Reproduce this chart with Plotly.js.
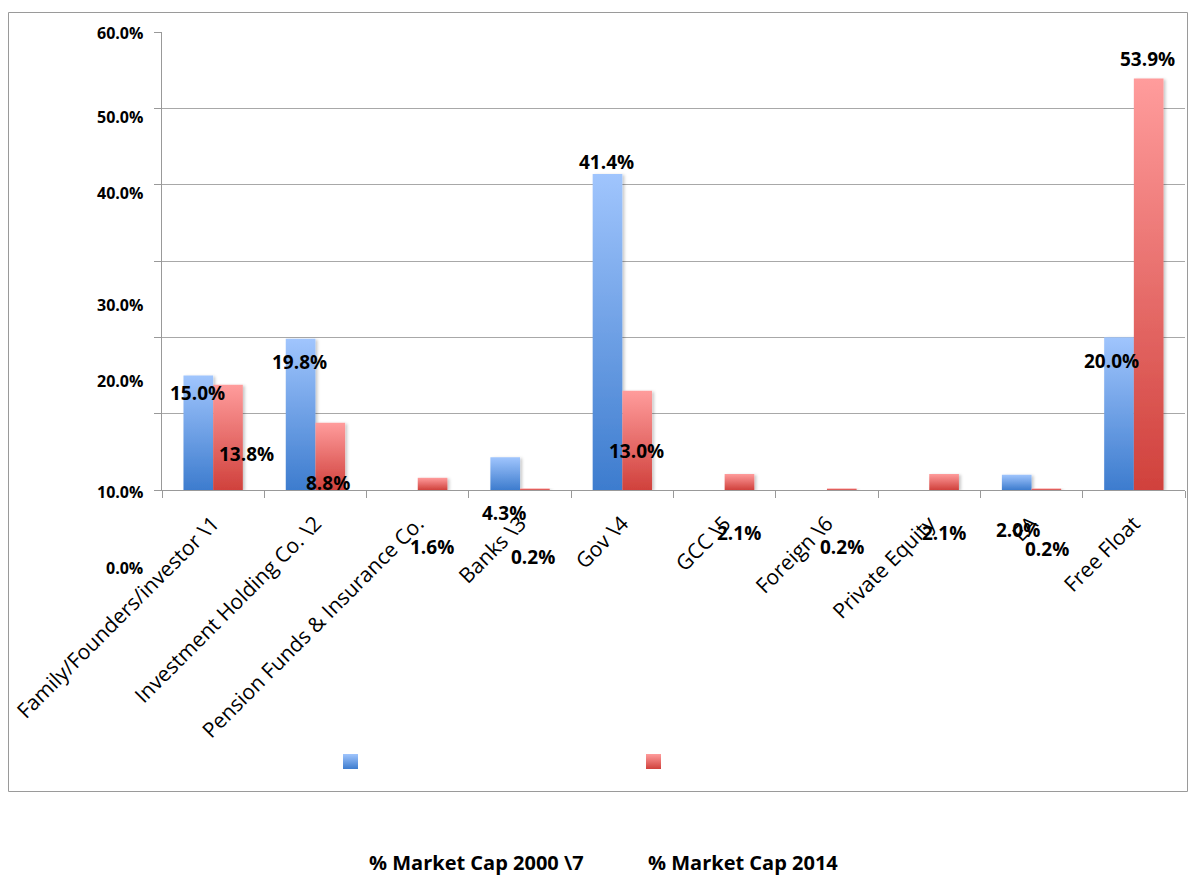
<!DOCTYPE html>
<html>
<head>
<meta charset="utf-8">
<script src="https://cdn.plot.ly/plotly-3.0.1.min.js"></script>
<style>
  html, body { margin: 0; padding: 0; background: #fff; }
  #chart { width: 1189px; height: 876px; }
</style>
</head>
<body>
<div id="chart"></div>
<script>
// ---- data ----
const categories = [
  'Family/Founders/investor \\1',
  'Investment Holding Co. \\2',
  'Pension Funds & Insurance Co.',
  'Banks \\3',
  'Gov \\4',
  'GCC \\5',
  'Foreign \\6',
  'Private Equity',
  'EA',
  'Free Float'
];
const share2000 = [15.0, 19.8, 0, 4.3, 41.4, 0, 0, 0, 2.0, 20.0];
const share2014 = [13.8, 8.8, 1.6, 0.2, 13.0, 2.1, 0.2, 2.1, 0.2, 53.9];
const seriesNames = ['% Market Cap 2000 \\7', '% Market Cap 2014'];
const yTickValues = [0, 10, 20, 30, 40, 50, 60];
const yTickLabels = ['0.0%', '10.0%', '20.0%', '30.0%', '40.0%', '50.0%', '60.0%'];

// ---- geometry (pixels) ----
const W = 1189, H = 876;
const PL = 162, PR = 1185, PT = 32, PB = 490;
const toPaperX = x => (x - PL) / (PR - PL);
const toPaperY = y => (PB - y) / (PB - PT);

// value label offsets from the top of each bar (px; yshift + = up)
const labelDx2000 = [-16, -16, 0, -16, -16, 0, 0, 0, -14, -22];
const labelDy2000 = [-17.5, -23, 0, -56, 12, 0, 0, 0, -55, -24];
const labelDx2014 = [33, 13, 14.5, 13.3, 14, 14, 14.7, 14.5, 15.3, 14];
const labelDy2014 = [-69, -60, -69, -68.5, -60, -59, -58.5, -59, -60.5, 19.6];
// vertical offsets of the value-axis labels from their gridlines
const yTickDy = [-78, -78.3, -43.7, -44, -8.3, -8.7, -1];

const FONT = 'Open Sans, Liberation Sans, sans-serif';
const BLUE = ['#a0c5fd', '#3d7cce'];
const RED = ['#ff9c9c', '#d0413c'];

const traces = [
  { type: 'bar', name: seriesNames[0], x: categories, y: share2000,
    marker: { color: BLUE[1], line: { width: 0 } }, hoverinfo: 'skip' },
  { type: 'bar', name: seriesNames[1], x: categories, y: share2014,
    marker: { color: RED[1], line: { width: 0 } }, hoverinfo: 'skip' }
];

const annotations = [];
function valueLabels(values, dx, dy) {
  values.forEach((v, i) => {
    if (!v) return;
    annotations.push({
      x: categories[i], xref: 'x', y: v, yref: 'y',
      xshift: dx[i], yshift: dy[i],
      text: v.toFixed(1) + '%', showarrow: false,
      xanchor: 'center', yanchor: 'middle',
      font: { family: FONT, size: 19, color: '#000', weight: 700 }
    });
  });
}
valueLabels(share2000, labelDx2000, labelDy2000);
valueLabels(share2014, labelDx2014, labelDy2014);

yTickValues.forEach((t, i) => {
  annotations.push({
    x: toPaperX(145), xref: 'paper', y: t, yref: 'y', yshift: yTickDy[i],
    text: yTickLabels[i], showarrow: false, xanchor: 'right', yanchor: 'middle',
    font: { family: FONT, size: 16, color: '#000', weight: 700 }
  });
});

// legend captions
[[476, seriesNames[0]], [743, seriesNames[1]]].forEach(([cx, txt]) => {
  annotations.push({
    x: toPaperX(cx), xref: 'paper', y: toPaperY(862), yref: 'paper',
    text: txt, showarrow: false, xanchor: 'center', yanchor: 'middle',
    borderpad: 0,
    font: { family: FONT, size: 20, color: '#000', weight: 700 }
  });
});

const shapes = [
  // outer frame
  { type: 'rect', xref: 'paper', yref: 'paper',
    x0: toPaperX(8.5), x1: toPaperX(1187.5), y0: toPaperY(12.5), y1: toPaperY(791.5),
    line: { color: '#9a9a9a', width: 1 }, fillcolor: 'rgba(0,0,0,0)', layer: 'below' },
  // legend swatches
  { type: 'rect', xref: 'paper', yref: 'paper',
    x0: toPaperX(343), x1: toPaperX(358), y0: toPaperY(769), y1: toPaperY(754),
    line: { width: 0 }, fillcolor: BLUE[1], layer: 'above' },
  { type: 'rect', xref: 'paper', yref: 'paper',
    x0: toPaperX(646), x1: toPaperX(661), y0: toPaperY(769), y1: toPaperY(754),
    line: { width: 0 }, fillcolor: RED[1], layer: 'above' }
];

const layout = {
  width: W, height: H,
  margin: { l: PL, r: W - PR, t: PT, b: H - PB, pad: 0 },
  paper_bgcolor: '#fff', plot_bgcolor: '#fff',
  showlegend: false,
  barmode: 'group', bargap: 0.42, bargroupgap: 0,
  font: { family: FONT, color: '#000' },
  xaxis: {
    type: 'category', showgrid: false, zeroline: false,
    showline: true, linecolor: '#999', linewidth: 1,
    ticks: 'outside', tickson: 'boundaries', ticklen: 7, tickcolor: '#999',
    tickangle: -45, ticklabelstandoff: 12,
    tickfont: { family: FONT, size: 21, color: '#000' }
  },
  yaxis: {
    range: [0, 60], tickvals: yTickValues, showticklabels: false,
    showgrid: true, gridcolor: '#a8a8a8', gridwidth: 1, zeroline: false,
    showline: true, linecolor: '#999', linewidth: 1,
    ticks: 'outside', ticklen: 7, tickcolor: '#999'
  },
  annotations: annotations,
  shapes: shapes
};

function addGradients(gd) {
  const svg = gd.querySelector('svg.main-svg');
  const ns = 'http://www.w3.org/2000/svg';
  const defs = document.createElementNS(ns, 'defs');
  function grad(id, cols) {
    const g = document.createElementNS(ns, 'linearGradient');
    g.setAttribute('id', id);
    g.setAttribute('x1', '0'); g.setAttribute('y1', '0');
    g.setAttribute('x2', '0'); g.setAttribute('y2', '1');
    [[0, cols[0]], [1, cols[1]]].forEach(([o, c]) => {
      const s = document.createElementNS(ns, 'stop');
      s.setAttribute('offset', o);
      s.setAttribute('stop-color', c);
      g.appendChild(s);
    });
    defs.appendChild(g);
  }
  grad('fillBlue', BLUE);
  grad('fillRed', RED);
  const f = document.createElementNS(ns, 'filter');
  f.setAttribute('id', 'barShadow');
  f.setAttribute('x', '-20%'); f.setAttribute('y', '-20%');
  f.setAttribute('width', '150%'); f.setAttribute('height', '150%');
  const ds = document.createElementNS(ns, 'feDropShadow');
  ds.setAttribute('dx', '2'); ds.setAttribute('dy', '1');
  ds.setAttribute('stdDeviation', '1.5');
  ds.setAttribute('flood-color', '#000'); ds.setAttribute('flood-opacity', '0.22');
  f.appendChild(ds);
  defs.appendChild(f);
  svg.insertBefore(defs, svg.firstChild);

  const fills = ['url(#fillBlue)', 'url(#fillRed)'];
  gd.querySelectorAll('.barlayer .trace').forEach((tr, ti) => {
    tr.querySelectorAll('.point path').forEach(p => {
      p.style.fill = fills[ti];
      p.setAttribute('filter', 'url(#barShadow)');
    });
  });
  gd.querySelectorAll('.shapelayer path[data-index]').forEach(p => {
    const idx = +p.getAttribute('data-index');
    if (idx === 1) p.style.fill = fills[0];
    if (idx === 2) p.style.fill = fills[1];
  });
}

Plotly.newPlot('chart', traces, layout, { displayModeBar: false, staticPlot: true })
  .then(addGradients);
</script>
</body>
</html>
